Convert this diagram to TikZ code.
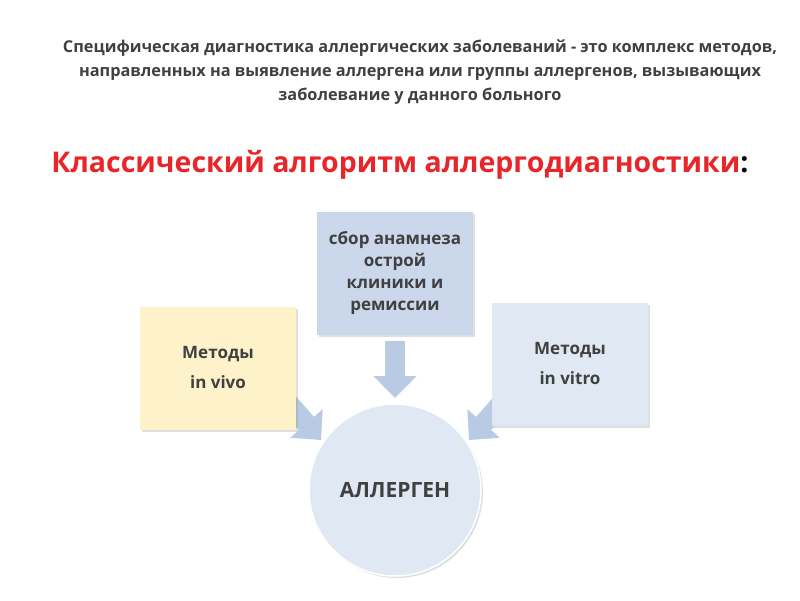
\documentclass[tikz,border=0pt]{standalone}
\usepackage{fontspec}
\setmainfont{Open Sans}
\usetikzlibrary{arrows.meta,shadows}
\definecolor{txt}{HTML}{404040}
\definecolor{arr}{HTML}{B9CBE4}
\definecolor{redt}{HTML}{E8262A}
\tikzset{
 boxs/.style={minimum width=156pt,minimum height=123pt,align=center,font=\bfseries\fontsize{17}{22}\selectfont,text=txt,drop shadow={shadow xshift=2pt,shadow yshift=-2pt,opacity=0.25}},
 barrow/.style={draw=arr,line width=20pt,-{Triangle[width=42pt,length=22pt]}},
}
\begin{document}
\begin{tikzpicture}[x=1pt,y=-1pt]
\useasboundingbox (0,0) rectangle (800,600);
\node[font=\bfseries\fontsize{16.3}{24}\selectfont,text=txt,align=center] (title) at (420,72)
 {Специфическая диагностика аллергических заболеваний - это комплекс методов,\\
 направленных на выявление аллергена или группы аллергенов, вызывающих\\
 заболевание у данного больного};
\node[font=\bfseries\fontsize{28.5}{30}\selectfont,text=redt] (head) at (400,165)
 {Классический алгоритм аллергодиагностики\textcolor{black}{:}};
\coordinate (ta) at (395,341);
\coordinate (tb) at (395,398);
\draw[barrow] (ta) -- (tb);
\coordinate (la) at (284,398);
\coordinate (lb) at (321,440);
\draw[barrow] (la) -- (lb);
\coordinate (ra) at (506,398);
\coordinate (rb) at (469,440);
\draw[barrow] (ra) -- (rb);
\node[boxs,fill=arr!75] (top) at (395,273) {сбор анамнеза\\острой\\клиники и\\ремиссии};
\node[boxs,fill={rgb,255:red,253;green,242;blue,201}] (left) at (218,368) {Методы\\[8pt]in vivo};
\node[boxs,fill=arr!45] (right) at (570,364) {Методы\\[8pt]in vitro};
\node[circle,minimum size=172pt,fill=arr!45,draw=white,line width=1.5pt,drop shadow={shadow xshift=2pt,shadow yshift=-2pt,opacity=0.25},font=\bfseries\fontsize{21}{24}\selectfont,text=txt] (c) at (395,490) {АЛЛЕРГЕН};
\end{tikzpicture}
\end{document}
